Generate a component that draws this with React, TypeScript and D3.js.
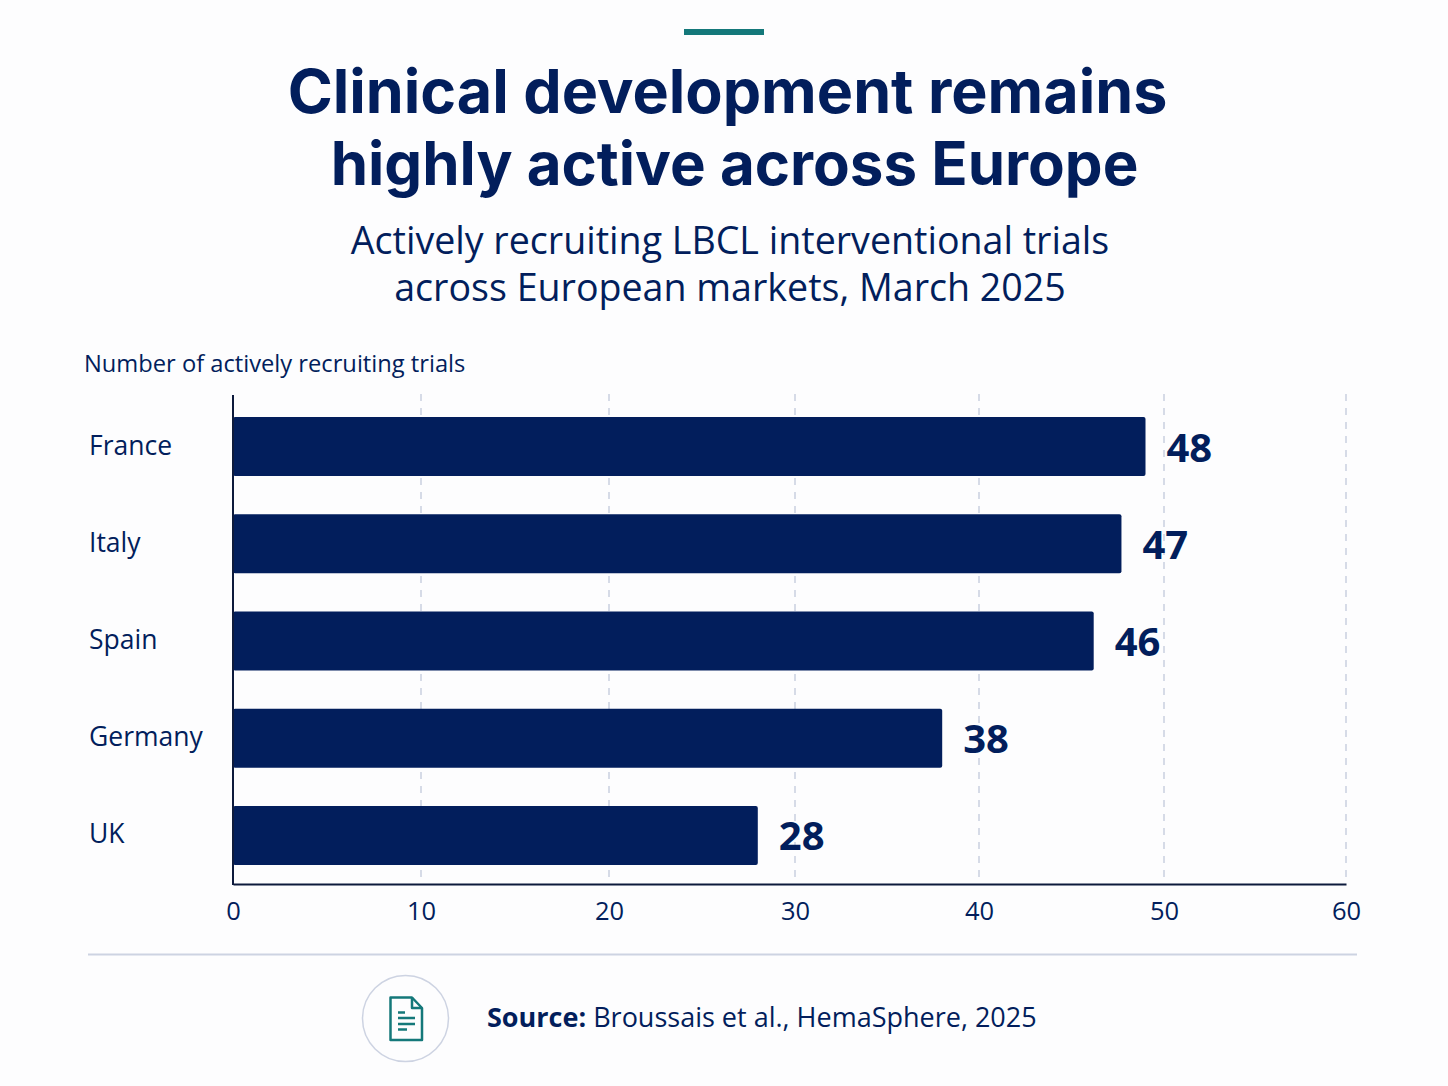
import React, { useEffect, useRef } from "react";
import * as d3 from "d3";

// ─── Data ─────────────────────────────────────────────────────────────────────
const COUNTRIES = ["France", "Italy", "Spain", "Germany", "UK"];
const VALUE_LABELS = ["48", "47", "46", "38", "28"];
// Bar ends as read against the axis; France is drawn past its printed label.
const BAR_VALUES = [49, 47.7, 46.2, 38, 28];
const X_TICKS = [0, 10, 20, 30, 40, 50, 60];
const X_TICK_PIXELS = [233, 421, 609, 795, 979, 1164, 1346];
const TITLE_LINES = ["Clinical development remains", "highly active across Europe"];
const SUBTITLE_LINES = ["Actively recruiting LBCL interventional trials", "across European markets, March 2025"];

// ─── Design tokens ────────────────────────────────────────────────────────────
const W = 1448;
const H = 1086;
const NAVY = "#021e5c";
const AXIS = "#0d1a3c";
const GRID = "#c9cfdf";
const RULE = "#cdd3e2";
const TEAL = "#14787a";
const FONT = "'Open Sans', sans-serif";

export default function App() {
  const ref = useRef<SVGSVGElement>(null);

  useEffect(() => {
    const node = ref.current;
    if (!node) return;
    const svg = d3.select(node);
    svg.selectAll("*").remove();

    svg.append("rect").attr("width", W).attr("height", H).attr("fill", "#fdfdfe");

    // ── Header ────────────────────────────────────────────────────────────
    svg.append("rect").attr("x", 684).attr("y", 29).attr("width", 80).attr("height", 6).attr("fill", TEAL);

    svg.selectAll("text.title")
      .data(TITLE_LINES)
      .join("text")
      .attr("class", "title")
      .attr("x", (_, i) => (i === 0 ? 727.5 : 734.5))
      .attr("y", (_, i) => 113 + i * 72)
      .attr("text-anchor", "middle")
      .attr("font-family", "Inter, sans-serif")
      .attr("font-weight", 700)
      .attr("font-size", (_, i) => (i === 0 ? 61 : 60))
      .attr("fill", NAVY)
      .text((d) => d);

    svg.selectAll("text.subtitle")
      .data(SUBTITLE_LINES)
      .join("text")
      .attr("class", "subtitle")
      .attr("x", 730)
      .attr("y", (_, i) => 254 + i * 47)
      .attr("text-anchor", "middle")
      .attr("font-family", FONT)
      .attr("font-size", 37.6)
      .attr("fill", NAVY)
      .text((d) => d);

    svg.append("text")
      .attr("x", 84)
      .attr("y", 372)
      .attr("font-family", FONT)
      .attr("font-size", 23.7)
      .attr("fill", NAVY)
      .text("Number of actively recruiting trials");

    // ── Scales ────────────────────────────────────────────────────────────
    const x = d3.scaleLinear().domain(X_TICKS).range(X_TICK_PIXELS);
    const y = d3.scaleBand().domain(COUNTRIES).range([398, 884]).paddingInner(0.393).paddingOuter(0.1965);

    // ── Grid lines ────────────────────────────────────────────────────────
    svg.append("g")
      .selectAll("line")
      .data(X_TICKS.slice(1))
      .join("line")
      .attr("x1", (d) => x(d))
      .attr("x2", (d) => x(d))
      .attr("y1", 394)
      .attr("y2", 884)
      .attr("stroke", GRID)
      .attr("stroke-width", 1.5)
      .attr("stroke-dasharray", "7,7");

    // ── Bars and labels ───────────────────────────────────────────────────
    svg.append("g")
      .selectAll("rect")
      .data(COUNTRIES)
      .join("rect")
      .attr("x", x(0))
      .attr("y", (d) => y(d)!)
      .attr("width", (_, i) => x(BAR_VALUES[i]) - x(0))
      .attr("height", y.bandwidth())
      .attr("rx", 2)
      .attr("fill", NAVY);

    svg.append("g")
      .selectAll("text")
      .data(COUNTRIES)
      .join("text")
      .attr("x", (_, i) => x(BAR_VALUES[i]) + 21)
      .attr("y", (d) => y(d)! + y.bandwidth() / 2 + 15)
      .attr("font-family", FONT)
      .attr("font-weight", 700)
      .attr("font-size", 40)
      .attr("fill", NAVY)
      .text((_, i) => VALUE_LABELS[i]);

    svg.append("g")
      .selectAll("text")
      .data(COUNTRIES)
      .join("text")
      .attr("x", 89)
      .attr("y", (d) => y(d)! + y.bandwidth() / 2 + 8)
      .attr("font-family", FONT)
      .attr("font-size", 26.5)
      .attr("fill", NAVY)
      .text((d) => d);

    // ── Axes ──────────────────────────────────────────────────────────────
    const xAxis = svg.append("g")
      .attr("transform", "translate(0,884)")
      .call(d3.axisBottom(x).tickValues(X_TICKS).tickSize(0).tickPadding(18).tickFormat(d3.format("d")));
    xAxis.select(".domain").attr("stroke", AXIS).attr("stroke-width", 2);
    xAxis.selectAll("text")
      .attr("font-family", FONT)
      .attr("font-size", 25.5)
      .attr("fill", NAVY);

    svg.append("line")
      .attr("x1", 233)
      .attr("x2", 233)
      .attr("y1", 395)
      .attr("y2", 885)
      .attr("stroke", AXIS)
      .attr("stroke-width", 2);

    // ── Footer ────────────────────────────────────────────────────────────
    svg.append("line")
      .attr("x1", 88)
      .attr("x2", 1357)
      .attr("y1", 954.5)
      .attr("y2", 954.5)
      .attr("stroke", RULE)
      .attr("stroke-width", 2);

    svg.append("circle")
      .attr("cx", 405.5)
      .attr("cy", 1018.5)
      .attr("r", 43)
      .attr("fill", "none")
      .attr("stroke", RULE)
      .attr("stroke-width", 1.5);

    const icon = svg.append("g")
      .attr("fill", "none")
      .attr("stroke", TEAL)
      .attr("stroke-width", 2.5)
      .attr("stroke-linejoin", "round");
    icon.append("path").attr("d", "M390.5 997.5 H412 L422 1008 V1040 H390.5 Z");
    icon.append("path").attr("d", "M412 997.5 V1008 H422");
    icon.append("path").attr("d", "M398 1012.5 H405 M398 1018 H415 M398 1024 H415 M398 1029.5 H407");

    const source = svg.append("text")
      .attr("x", 487)
      .attr("y", 1027)
      .attr("font-family", FONT)
      .attr("font-size", 27)
      .attr("fill", NAVY);
    source.append("tspan").attr("font-weight", 700).text("Source:");
    source.append("tspan").text(" Broussais et al., HemaSphere, 2025");
  }, []);

  return <svg ref={ref} width={W} height={H} style={{ position: "absolute", left: 0, top: 0 }} />;
}
